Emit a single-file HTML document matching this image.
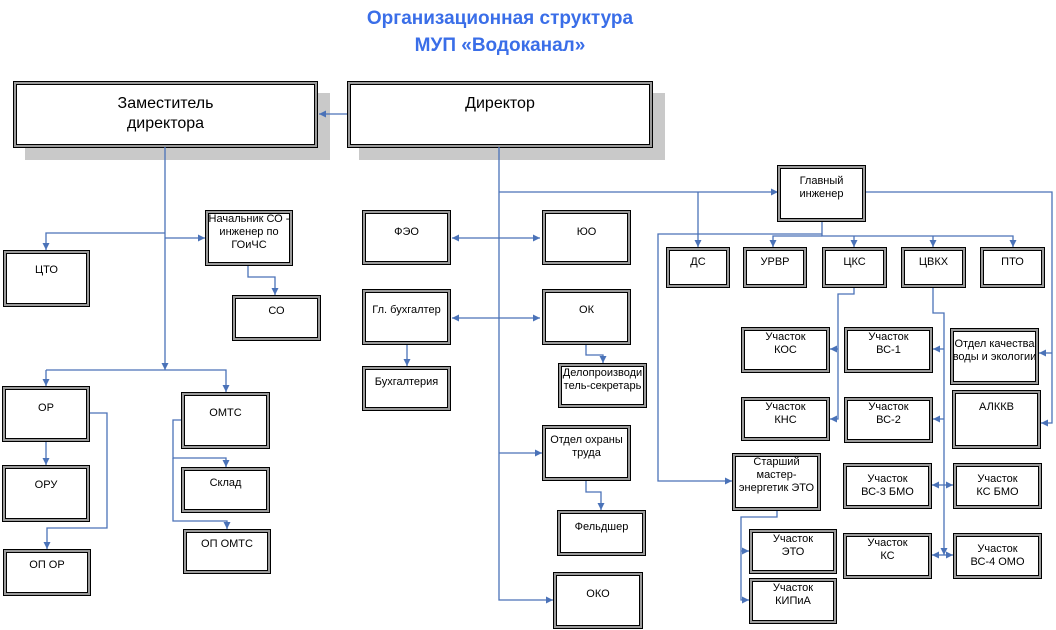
<!DOCTYPE html>
<html><head><meta charset="utf-8"><style>
body{margin:0;background:#fff;width:1056px;height:630px;overflow:hidden;position:relative;font-family:"Liberation Sans",sans-serif}
.b{position:absolute;box-sizing:border-box;background:#fff;border:1px solid #000;box-shadow:inset 0 0 0 2px #9a9a9a,inset 0 0 0 3px #000;text-align:center;font-size:11px;line-height:13px;color:#000}
.big{font-size:16px;line-height:20px;box-shadow:inset 0 0 0 2px #9a9a9a,inset 0 0 0 3px #000,12px 12px 0 #c9c9c9}
.t{position:absolute;left:0;width:1000px;text-align:center;color:#3a6ee8;font-weight:bold;font-size:19px;line-height:27px}
svg{position:absolute;left:0;top:0}
</style></head><body>
<div class="t" style="top:5px">Организационная структура<br>МУП «Водоканал»</div>

<div class="b big" style="left:13px;top:81px;width:305px;height:67px;padding-top:12px">Заместитель<br>директора</div>
<div class="b big" style="left:347px;top:81px;width:306px;height:67px;padding-top:12px">Директор</div>

<svg width="1056" height="630">
<defs><marker id="a" markerWidth="8" markerHeight="8" refX="7" refY="4" orient="auto" markerUnits="userSpaceOnUse"><path d="M0,0.5 L7,4 L0,7.5z" fill="#4a72b8"/></marker>
<marker id="s" markerWidth="8" markerHeight="8" refX="1" refY="4" orient="auto" markerUnits="userSpaceOnUse"><path d="M8,0.5 L1,4 L8,7.5z" fill="#4a72b8"/></marker></defs>
<g fill="none" stroke="#4a72b8" stroke-width="1.3" marker-end="url(#a)">
<path d="M347,114H319"/>
<path d="M165,147V370" marker-end=""/>
<path d="M165,233H46V250"/>
<path d="M165,238H205"/>
<path d="M248,265V277H275V295"/>
<path d="M46,370H226V392"/>
<path d="M46,370V386"/>
<path d="M46,441V465"/>
<path d="M89,413H107V528H47V549"/>
<path d="M181,420H173V458H226V467"/>
<path d="M173,458V521H227V529"/>
<path d="M499,147V600H553"/>
<path d="M499,192H778"/>
<path d="M452,238H540" marker-start="url(#s)"/>
<path d="M452,318H540" marker-start="url(#s)"/>
<path d="M407,344V366"/>
<path d="M586,344V355H603V363"/>
<path d="M499,453H542"/>
<path d="M586,480V492H601V510"/>
<path d="M698,192V247"/>
<path d="M822,221V236H1013V247"/>
<path d="M822,236H773V247"/>
<path d="M854,236V247"/>
<path d="M933,236V247"/>
<path d="M822,234H658V481H732"/>
<path d="M866,192H1052V423H1041"/>
<path d="M1052,353H1039"/>
<path d="M854,287V294H838V419H830"/>
<path d="M838,349H830"/>
<path d="M933,287V313H944V555" marker-end=""/>
<path d="M944,349H933"/>
<path d="M944,419H933"/>
<path d="M944,485H932"/>
<path d="M944,485H953"/>
<path d="M944,555H932"/>
<path d="M944,555H953"/>
<path d="M777,510V517H741V600H749"/>
<path d="M741,551H749"/>
</g></svg>

<div class="b" style="left:3px;top:250px;width:87px;height:57px;padding-top:13px">ЦТО</div>
<div class="b" style="left:205px;top:210px;width:88px;height:56px;padding-top:2px">Начальник СО -<br>инженер по<br>ГОиЧС</div>
<div class="b" style="left:232px;top:295px;width:89px;height:46px;padding-top:9px">СО</div>
<div class="b" style="left:2px;top:386px;width:88px;height:56px;padding-top:15px">ОР</div>
<div class="b" style="left:181px;top:392px;width:89px;height:57px;padding-top:14px">ОМТС</div>
<div class="b" style="left:2px;top:465px;width:88px;height:57px;padding-top:13px">ОРУ</div>
<div class="b" style="left:3px;top:549px;width:88px;height:47px;padding-top:9px">ОП ОР</div>
<div class="b" style="left:181px;top:467px;width:89px;height:46px;padding-top:9px">Склад</div>
<div class="b" style="left:183px;top:529px;width:88px;height:45px;padding-top:8px">ОП ОМТС</div>

<div class="b" style="left:362px;top:210px;width:89px;height:55px;padding-top:15px">ФЭО</div>
<div class="b" style="left:542px;top:210px;width:89px;height:55px;padding-top:15px">ЮО</div>
<div class="b" style="left:362px;top:289px;width:89px;height:56px;padding-top:14px">Гл. бухгалтер</div>
<div class="b" style="left:542px;top:289px;width:89px;height:56px;padding-top:14px">ОК</div>
<div class="b" style="left:362px;top:366px;width:89px;height:45px;padding-top:9px">Бухгалтерия</div>
<div class="b" style="left:558px;top:363px;width:89px;height:45px;padding-top:3px">Делопроизводи<br>тель-секретарь</div>
<div class="b" style="left:542px;top:425px;width:89px;height:56px;padding-top:8px">Отдел охраны<br>труда</div>
<div class="b" style="left:557px;top:510px;width:89px;height:46px;padding-top:10px">Фельдшер</div>
<div class="b" style="left:553px;top:572px;width:90px;height:57px;padding-top:15px">ОКО</div>

<div class="b" style="left:777px;top:165px;width:89px;height:57px;padding-top:9px">Главный<br>инженер</div>
<div class="b" style="left:666px;top:247px;width:64px;height:41px;padding-top:8px">ДС</div>
<div class="b" style="left:743px;top:247px;width:64px;height:41px;padding-top:8px">УРВР</div>
<div class="b" style="left:822px;top:247px;width:65px;height:41px;padding-top:8px">ЦКС</div>
<div class="b" style="left:901px;top:247px;width:65px;height:41px;padding-top:8px">ЦВКХ</div>
<div class="b" style="left:980px;top:247px;width:65px;height:41px;padding-top:8px">ПТО</div>

<div class="b" style="left:741px;top:327px;width:89px;height:46px;padding-top:3px">Участок<br>КОС</div>
<div class="b" style="left:844px;top:327px;width:89px;height:46px;padding-top:3px">Участок<br>ВС-1</div>
<div class="b" style="left:950px;top:328px;width:89px;height:57px;padding-top:9px">Отдел качества<br>воды и экологии</div>
<div class="b" style="left:741px;top:397px;width:89px;height:44px;padding-top:3px">Участок<br>КНС</div>
<div class="b" style="left:844px;top:397px;width:89px;height:46px;padding-top:3px">Участок<br>ВС-2</div>
<div class="b" style="left:952px;top:390px;width:89px;height:59px;padding-top:10px">АЛККВ</div>
<div class="b" style="left:732px;top:453px;width:89px;height:58px;padding-top:2px">Старший<br>мастер-<br>энергетик ЭТО</div>
<div class="b" style="left:843px;top:463px;width:89px;height:46px;padding-top:9px">Участок<br>ВС-3 БМО</div>
<div class="b" style="left:953px;top:463px;width:89px;height:46px;padding-top:9px">Участок<br>КС БМО</div>
<div class="b" style="left:749px;top:529px;width:88px;height:45px;padding-top:3px">Участок<br>ЭТО</div>
<div class="b" style="left:843px;top:533px;width:89px;height:46px;padding-top:3px">Участок<br>КС</div>
<div class="b" style="left:953px;top:533px;width:89px;height:46px;padding-top:9px">Участок<br>ВС-4 ОМО</div>
<div class="b" style="left:749px;top:578px;width:88px;height:46px;padding-top:3px">Участок<br>КИПиА</div>
</body></html>
